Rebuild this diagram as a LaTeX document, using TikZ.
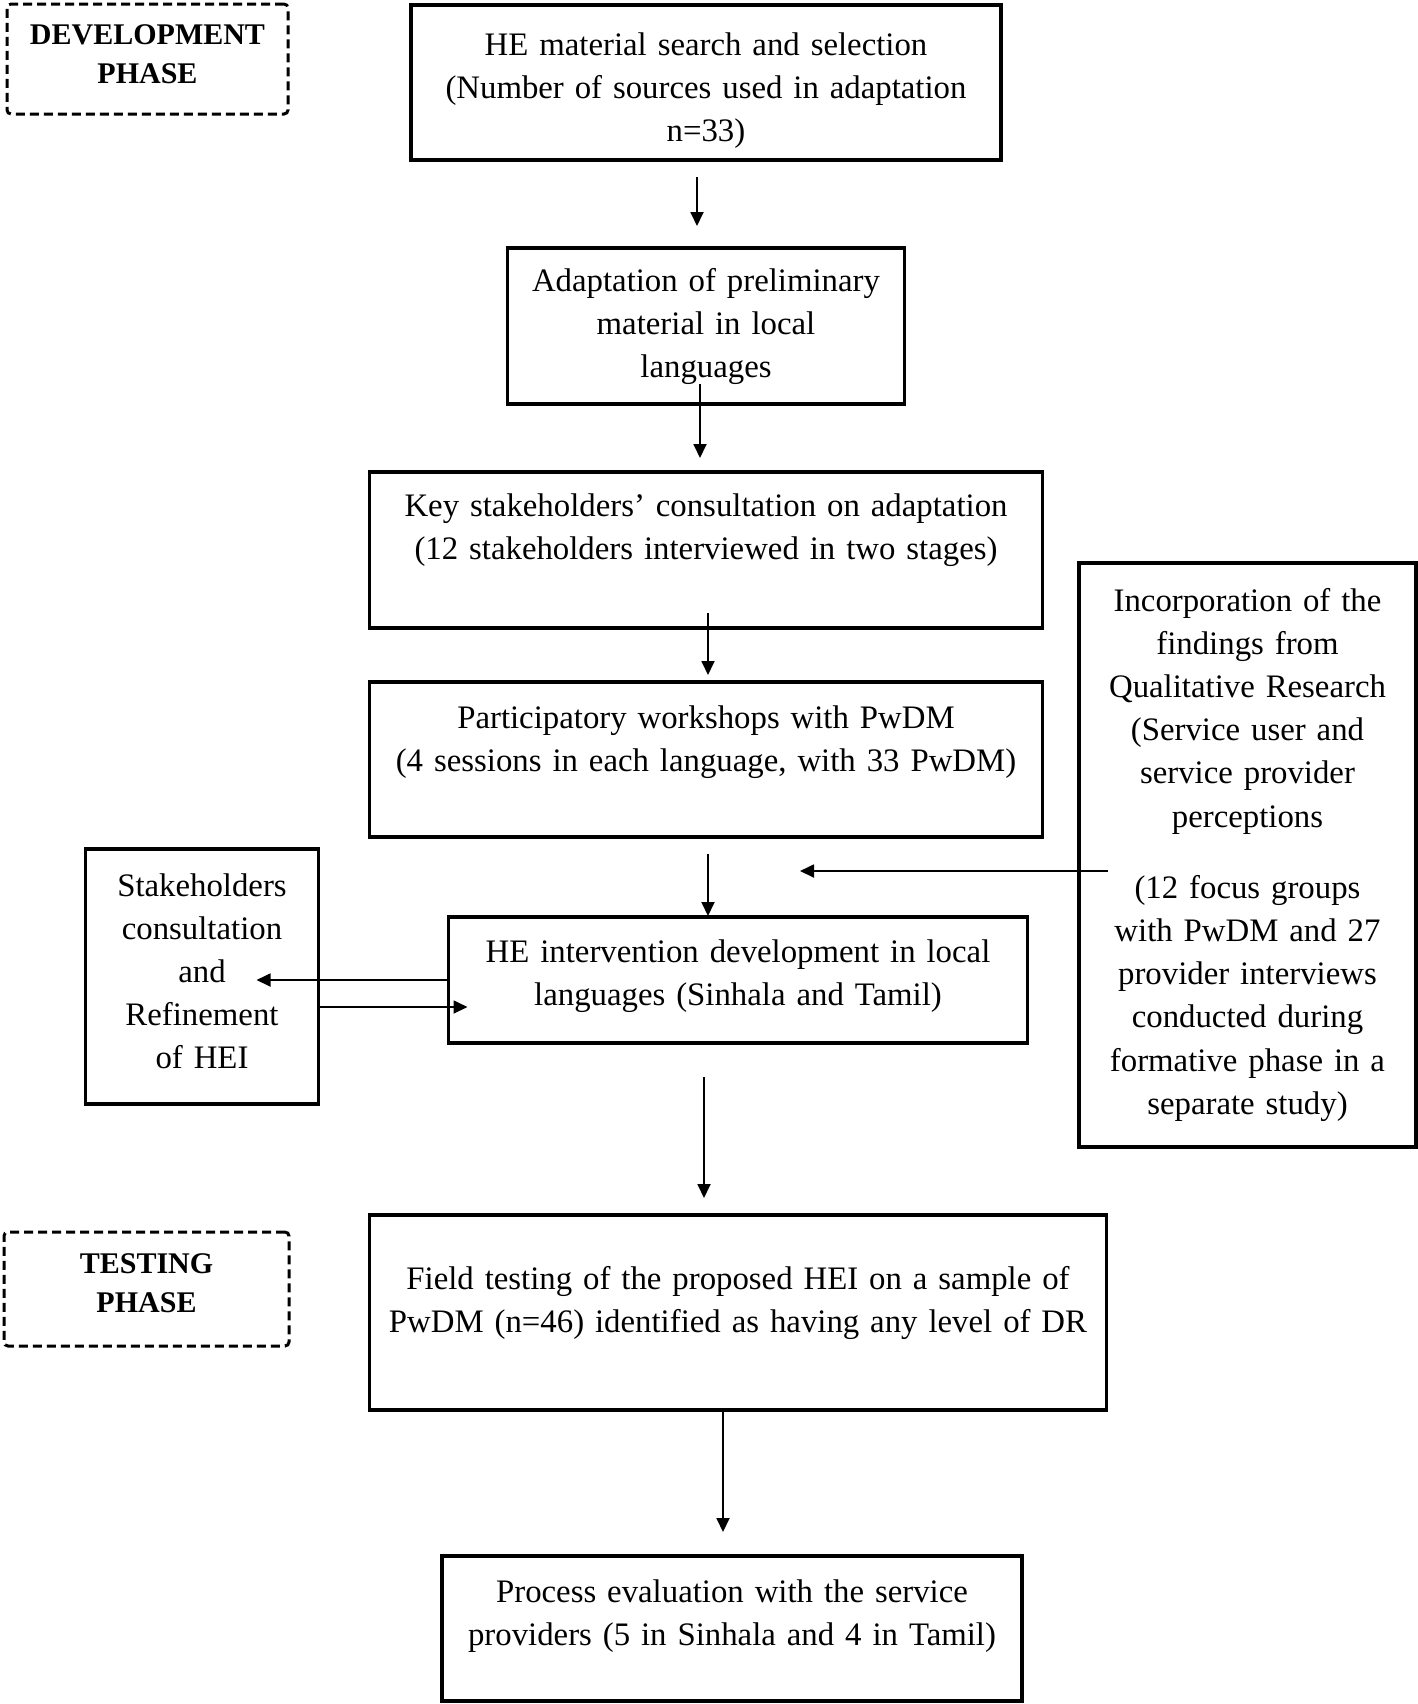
\documentclass[tikz,border=0pt]{standalone}
\usepackage{fontspec}
\setmainfont{Liberation Serif}
\usetikzlibrary{positioning, arrows.meta}

\tikzset{
  box/.style={draw, line width=1.6pt, align=center, inner sep=0pt, outer sep=0pt,
    font=\fontsize{16.4}{21.6}\selectfont},
  phase/.style={draw, line width=1.5pt, dash pattern=on 4.5pt off 2.5pt, rounded corners=2pt,
    align=center, inner sep=0pt, outer sep=0pt, font=\fontsize{15}{19.5}\selectfont\bfseries}
}

\begin{document}
\begin{tikzpicture}[x=0.5pt, y=-0.5pt, ->, >={Triangle[length=7pt, width=6.5pt]}, line width=0.9pt]
    \useasboundingbox (0,0) rectangle (1418,1704);

    % Phases
    \node[phase, anchor=north west, text width=140.5pt, text height=20pt, text depth=35pt] (dev) at (7,4) {DEVELOPMENT\\PHASE};
    \node[phase, anchor=north west, text width=142.5pt, text height=20.5pt, text depth=36.5pt] (test) at (4,1232) {TESTING\\PHASE};

    % Steps
    \node[box, anchor=north, text width=295pt, text height=25pt, text depth=52.5pt] (search) at (706,5)
        {HE material search and selection\\(Number of sources used in adaptation\\n=33)};
    \node[box, below=44pt of search, text width=198.5pt, text height=21.5pt, text depth=56.5pt] (adapt)
        {Adaptation of preliminary\\material in local\\languages};
    \node[box, below=34pt of adapt, text width=336.5pt, text height=22pt, text depth=56pt] (consult)
        {Key stakeholders’ consultation on adaptation\\(12 stakeholders interviewed in two stages)};
    \node[box, below=27pt of consult, text width=336.5pt, text height=23pt, text depth=54.5pt] (workshop)
        {Participatory workshops with PwDM\\(4 sessions in each language, with 33 PwDM)};
    \node[box, below=40pt of workshop, xshift=16pt, text width=289.5pt, text height=22.5pt, text depth=40.5pt] (develop)
        {HE intervention development in local\\languages (Sinhala and Tamil)};
    \node[box, below=86pt of develop, text width=368.5pt, text height=37pt, text depth=60.5pt] (field)
        {Field testing of the proposed HEI on a sample of\\PwDM (n=46) identified as having any level of DR};
    \node[box, below=73pt of field, xshift=-3pt, text width=290pt, text height=23pt, text depth=49.5pt] (evaluate)
        {Process evaluation with the service\\providers (5 in Sinhala and 4 in Tamil)};

    % Side boxes
    \node[box, anchor=north east, text width=116.5pt, text height=23.5pt, text depth=104pt] (refine)
        at ([xshift=-65pt, yshift=34pt]develop.north west)
        {Stakeholders\\consultation\\and\\Refinement\\of HEI};
    \node[box, anchor=north west, text width=168.5pt, text height=24pt, text depth=268pt] (findings)
        at ([xshift=18.25pt, yshift=-45.5pt]consult.north east)
        {Incorporation of the\\findings from\\Qualitative Research\\(Service user and\\service provider\\perceptions\\[14pt](12 focus groups\\with PwDM and 27\\provider interviews\\conducted during\\formative phase in a\\separate study)};

    \coordinate (merge) at ([xshift=47pt, yshift=-17pt]workshop.south);
    \coordinate (fin) at ([xshift=14.5pt, yshift=-8pt]findings.west);
    \coordinate (back) at ([yshift=-13.5pt]develop.west);

    % Arrows
    \path ([xshift=-4.5pt, yshift=-8.5pt]search.south) edge ([xshift=-4.5pt, yshift=11pt]adapt.north)
          ([xshift=-3pt, yshift=10pt]adapt.south) edge ([xshift=-3pt, yshift=7pt]consult.north)
          ([xshift=1pt, yshift=7.5pt]consult.south) edge ([xshift=1pt, yshift=3.5pt]workshop.north)
          ([xshift=1pt, yshift=-8.5pt]workshop.south) edge ([xshift=-15pt, yshift=0.5pt]develop.north)
          ([xshift=-17pt, yshift=-17pt]develop.south) edge ([xshift=-17pt, yshift=8.5pt]field.north)
          ([xshift=-7.5pt]field.south) edge ([xshift=-4.5pt, yshift=12pt]evaluate.north)
          (fin) edge (fin -| merge)
          (develop.west) edge[shorten >=-31pt] (develop.west -| refine.east)
          (back -| refine.east) edge[shorten >=-9.5pt] (back);
\end{tikzpicture}
\end{document}
